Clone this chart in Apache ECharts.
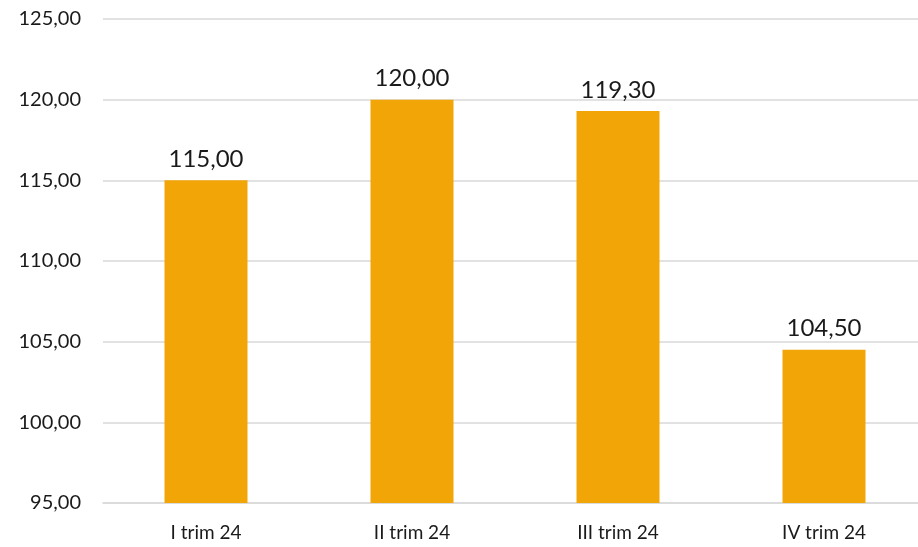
<!DOCTYPE html>
<html><head><meta charset="utf-8">
<script src="https://cdn.jsdelivr.net/npm/echarts@6/dist/echarts.min.js"></script>
<style>html,body{margin:0;padding:0;background:#fff;overflow:hidden;width:918px;height:547px}#c{width:927px;height:547px}</style>
</head><body><div id="c"></div>
<script>
var categories = ['I trim 24', 'II trim 24', 'III trim 24', 'IV trim 24'];
var values = [115.00, 120.00, 119.30, 104.50];
var yMin = 95, yMax = 125, yStep = 5;
function fmt(v){ return v.toFixed(2).replace('.', ','); }
var chart = echarts.init(document.getElementById('c'));
chart.setOption({
  animation: false,
  grid: { left: 103, top: 19, right: 0, bottom: 44 },
  xAxis: {
    type: 'category', data: categories,
    axisLine: { lineStyle: { color: '#d9d9d9', width: 1.5 } },
    axisTick: { show: false },
    axisLabel: { color: '#1a1a1a', fontSize: 19, fontFamily: 'Lato', margin: 20 }
  },
  yAxis: {
    type: 'value', min: yMin, max: yMax, interval: yStep,
    axisLine: { show: false }, axisTick: { show: false },
    splitLine: { lineStyle: { color: '#d9d9d9', width: 1.5 } },
    axisLabel: { color: '#1a1a1a', fontSize: 20, fontFamily: 'Lato', margin: 22, formatter: fmt }
  },
  series: [{
    type: 'bar', data: values, barWidth: 83,
    itemStyle: { color: '#F2A507' },
    label: { show: true, position: 'top', distance: 9, color: '#1a1a1a', fontSize: 24, fontFamily: 'Lato', formatter: function(p){ return fmt(p.value); } }
  }]
});
</script></body></html>
